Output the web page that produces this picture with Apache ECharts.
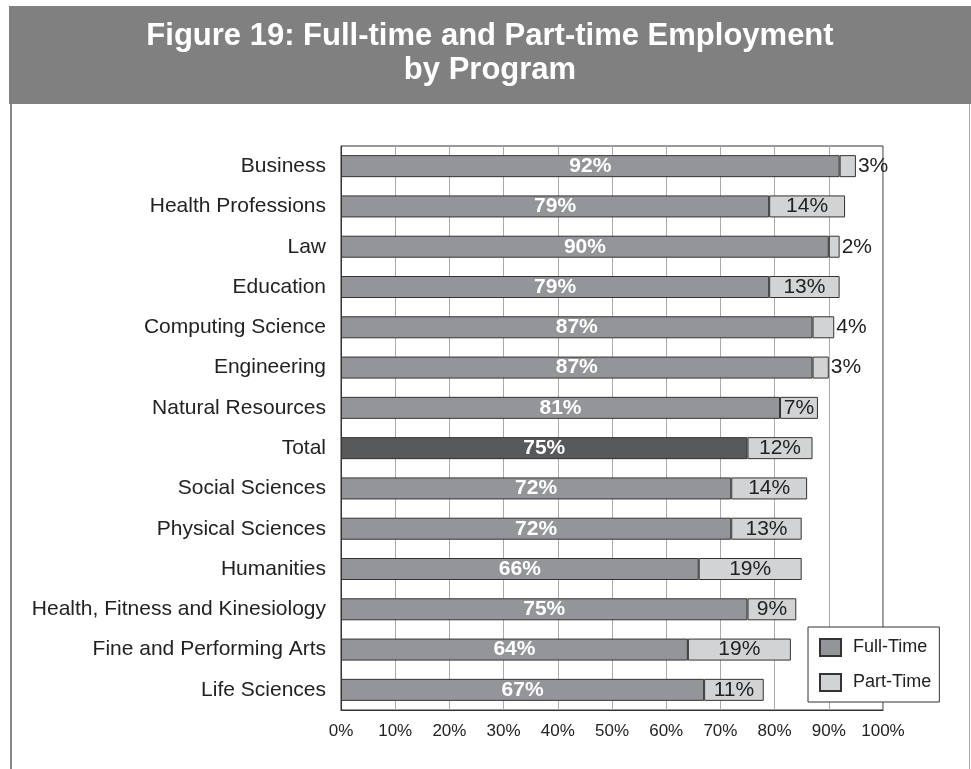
<!DOCTYPE html>
<html>
<head>
<meta charset="utf-8">
<script src="https://cdn.jsdelivr.net/npm/echarts@6/dist/echarts.min.js"></script>
<style>html,body{margin:0;padding:0;background:#fff;}#c{width:971px;height:769px;}</style>
</head>
<body>
<div id="c"></div>
<script>
const categories = ['Business','Health Professions','Law','Education','Computing Science','Engineering','Natural Resources','Total','Social Sciences','Physical Sciences','Humanities','Health, Fitness and Kinesiology','Fine and Performing Arts','Life Sciences'];
const fullTime = [92,79,90,79,87,87,81,75,72,72,66,75,64,67];
const partTime = [3,14,2,13,4,3,7,12,14,13,19,9,19,11];
const xTicks = [0,10,20,30,40,50,60,70,80,90,100];

const chart = echarts.init(document.getElementById('c'), null, {renderer:'canvas'});
const font = '"Liberation Sans", Arial, Helvetica, sans-serif';

const ftData = fullTime.map((v,i)=>({
  value: v,
  itemStyle: categories[i]==='Total' ? {color:'#58595b'} : undefined
}));
const ptData = partTime.map(v=>({
  value: v,
  label: v < 5 ? {position:'right', distance:2} : {position:'inside'}
}));

chart.setOption({
  animation:false,
  textStyle:{fontFamily:font},
  graphic:[
    {type:'rect', shape:{x:9,y:6,width:962,height:98}, style:{fill:'#808080'}, z:-1},
    {type:'line', shape:{x1:11,y1:104,x2:11,y2:769}, style:{stroke:'#888',lineWidth:2}},
    {type:'line', shape:{x1:969.5,y1:104,x2:969.5,y2:769}, style:{stroke:'#aaa',lineWidth:1}},
    {type:'text', x:490, y:36, style:{text:'Figure 19: Full-time and Part-time Employment', fill:'#fff', font:'bold 31px '+font, textAlign:'center', textVerticalAlign:'middle'}},
    {type:'text', x:490, y:70, style:{text:'by Program', fill:'#fff', font:'bold 31px '+font, textAlign:'center', textVerticalAlign:'middle'}}
  ],
  grid:{left:341, top:146, width:542, height:564, show:true, borderColor:'#333', borderWidth:1, backgroundColor:'transparent'},
  legend:{
    orient:'vertical', left:808, top:627,
    padding:[11,8,10,11], itemGap:16, itemWidth:21, itemHeight:17,
    icon:'rect',
    backgroundColor:'#fff', borderColor:'#333', borderWidth:1,
    textStyle:{fontSize:18, color:'#222', fontFamily:font, padding:[0,0,0,7]},
    data:['Full-Time','Part-Time']
  },
  xAxis:{
    type:'value', min:0, max:100, interval:10,
    axisLine:{show:true, lineStyle:{color:'#333'}},
    axisTick:{show:false},
    splitLine:{show:true, lineStyle:{color:'#aaa', width:1}},
    axisLabel:{formatter:v=>xTicks.includes(v)?v+'%':'', fontSize:17, color:'#222', margin:13, fontFamily:font}
  },
  yAxis:{
    type:'category', data:categories, inverse:true,
    axisLine:{show:true, lineStyle:{color:'#333'}},
    axisTick:{show:false},
    axisLabel:{fontSize:21, color:'#222', margin:15, fontFamily:font}
  },
  series:[
    {name:'Full-Time', type:'bar', stack:'a', data:ftData, barWidth:22,
     itemStyle:{color:'#939598', borderColor:'#333', borderWidth:1},
     label:{show:true, position:'inside', formatter:'{c}%', color:'#fff', fontWeight:'bold', fontSize:21, fontFamily:font}},
    {name:'Part-Time', type:'bar', stack:'a', data:ptData, barWidth:22,
     itemStyle:{color:'#d1d3d4', borderColor:'#333', borderWidth:1},
     label:{show:true, formatter:'{c}%', color:'#222', fontSize:21, fontFamily:font}}
  ]
});
</script>
</body>
</html>
